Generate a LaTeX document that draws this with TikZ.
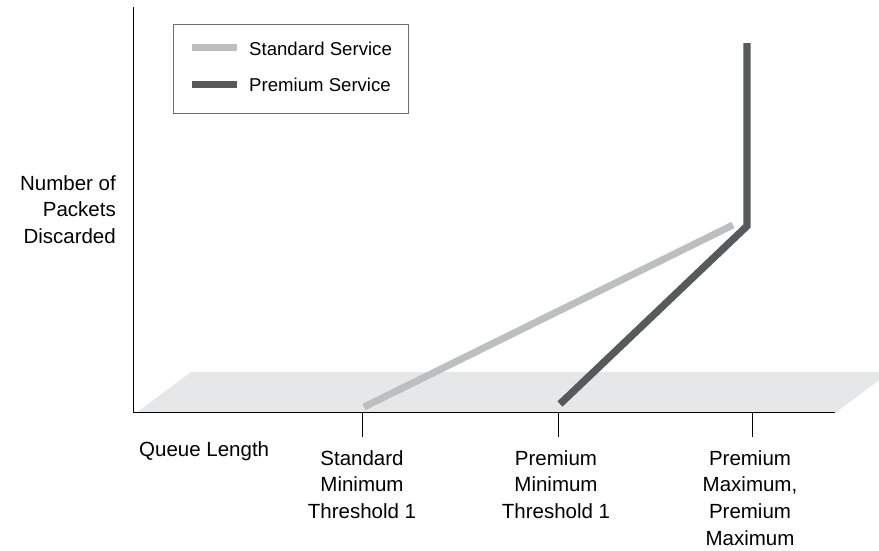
\documentclass[tikz,border=0pt]{standalone}
\usepackage{fontspec}
\setmainfont{Liberation Sans}
\definecolor{stdgray}{HTML}{BCBEC0}
\definecolor{premgray}{HTML}{58595B}
\definecolor{planegray}{HTML}{E6E7E8}
\definecolor{boxgray}{HTML}{6D6E71}
\begin{document}
\begin{tikzpicture}[x=1pt,y=-1pt,
  lbl/.style={inner sep=0pt,align=center,font=\fontsize{20.5}{26.8}\selectfont},
  leg/.style={inner sep=0pt,anchor=base west,font=\fontsize{18.6}{22}\selectfont},
  stdline/.style={line width=7pt,color=stdgray,line cap=butt},
  premline/.style={line width=7.3pt,color=premgray,line cap=butt,line join=miter},
  axisline/.style={line width=1.4pt,black},
  tickline/.style={line width=1pt,black}]
\useasboundingbox (0,0) rectangle (879,550);
\begin{scope}
\clip (0,0) rectangle (879,550);
\fill[planegray] (136,413) -- (191,372) -- (890,372) -- (835,413) -- cycle;
\end{scope}
% axes
\coordinate (ytop) at (133.3,7);
\coordinate (orig) at (133.3,412.7);
\coordinate (xend) at (835,412.7);
\draw[axisline] (ytop) -- (orig) -- (xend);
% ticks
\coordinate (t1) at (362,412.7); \coordinate (t1b) at (362,437);
\coordinate (t2) at (558,412.7); \coordinate (t2b) at (558,437);
\coordinate (t3) at (752,412.7); \coordinate (t3b) at (752,437);
\draw[tickline] (t1) -- (t1b);
\draw[tickline] (t2) -- (t2b);
\draw[tickline] (t3) -- (t3b);
% data lines
\coordinate (s0) at (364,407);
\coordinate (s1) at (733,225);
\draw[stdline] (s0) -- (s1);
\coordinate (p0) at (560,404);
\coordinate (p1) at (747,226);
\coordinate (p2) at (747,43);
\draw[premline] (p0) -- (p1) -- (p2);
% legend
\node[draw=boxgray,line width=1pt,minimum width=235pt,minimum height=88.7pt,anchor=north west,inner sep=0pt] (legbox) at (173.3,24) {};
\coordinate (ls0) at (192,47.7); \coordinate (ls1) at (237,47.7);
\coordinate (lp0) at (192,84.3); \coordinate (lp1) at (237,84.3);
\draw[stdline,line width=6.7pt] (ls0) -- (ls1);
\draw[premline,line width=6.7pt] (lp0) -- (lp1);
\node[leg] (legstd) at (249,55) {Standard Service};
\node[leg] (legprem) at (249,91.6) {Premium Service};
% labels
\node[lbl,align=right,anchor=north east] (ylab) at (116,175) {Number of\\Packets\\Discarded};
\node[lbl,anchor=base west] (xlab) at (139,456) {Queue Length};
\node[lbl,anchor=north] (l1) at (362,450) {Standard\\Minimum\\Threshold 1};
\node[lbl,anchor=north] (l2) at (556,450) {Premium\\Minimum\\Threshold 1};
\node[lbl,anchor=north] (l3) at (750,450) {Premium\\Maximum,\\Premium\\Maximum};
\end{tikzpicture}
\end{document}
